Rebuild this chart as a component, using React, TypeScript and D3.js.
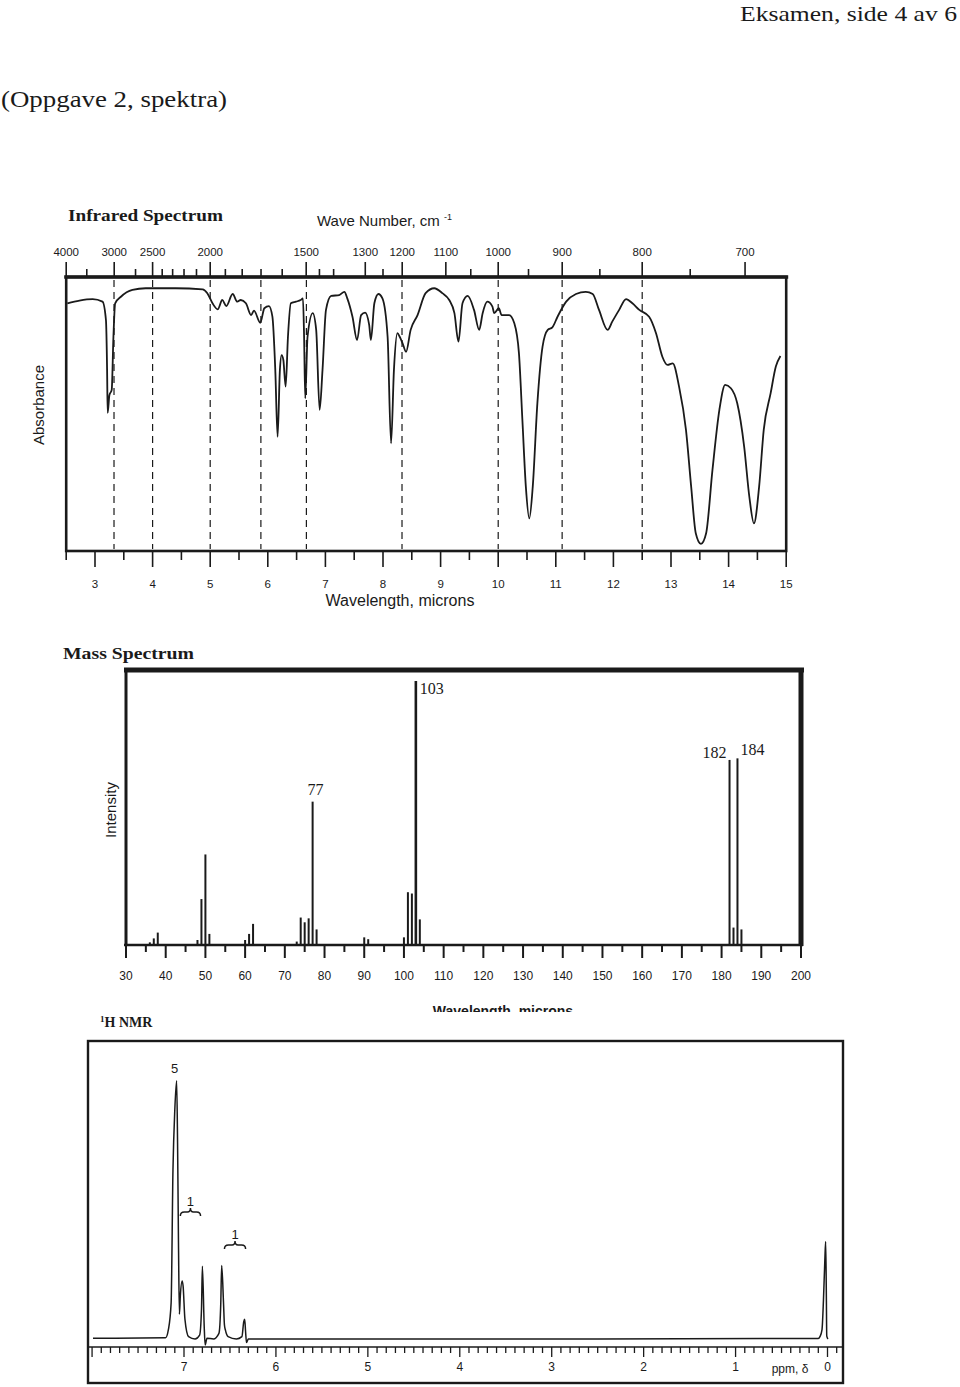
import React from 'react';
import * as d3 from 'd3';

// ---------------- IR data ----------------
const irWavenumberTicks = [4000, 3500, 3000, 2700, 2500, 2400, 2300, 2200, 2100, 2000, 1900, 1800, 1700, 1600, 1500, 1450, 1400, 1300, 1250, 1200, 1100, 1050, 1000, 950, 900, 850, 800, 750, 700];
const irWavenumberLabels = [4000, 3000, 2500, 2000, 1500, 1300, 1200, 1100, 1000, 900, 800, 700];
const irMicronLabels = [3, 4, 5, 6, 7, 8, 9, 10, 11, 12, 13, 14, 15];
const irMicronMinor = [2.5, 3.5, 4.5, 5.5, 6.5, 7.5, 8.5, 9.5, 10.5, 11.5, 12.5, 13.5, 14.5];
const irDashedMicrons = [3.33, 4, 5, 5.88, 6.67, 8.33, 10, 11.11, 12.5];
// [wavelength (microns), transmittance %]
const irSpectrum: [number, number][] = [
  [2.52, 90.4], [2.73, 91.4], [2.96, 91.9], [3.13, 91.0], [3.19, 84.3], [3.21, 66.1], [3.22, 50.4], [3.25, 56.9],
  [3.29, 58.8], [3.32, 78.2], [3.35, 90.4], [3.45, 92.8], [3.65, 95.3], [3.88, 95.9], [4.40, 95.9], [4.87, 95.5],
  [4.95, 94.1], [5.04, 90.4], [5.13, 88.2], [5.21, 91.6], [5.28, 89.4], [5.39, 93.8], [5.47, 91.0], [5.53, 91.6],
  [5.62, 90.4], [5.71, 86.1], [5.76, 87.7], [5.87, 83.3], [5.94, 88.6], [6.02, 89.4], [6.08, 85.5], [6.13, 66.1],
  [6.17, 41.7], [6.21, 66.1], [6.24, 71.5], [6.27, 69.7], [6.31, 60.0], [6.35, 78.2], [6.40, 90.4], [6.49, 91.0],
  [6.57, 91.6], [6.61, 92.2], [6.63, 78.2], [6.65, 55.7], [6.69, 78.2], [6.78, 86.8], [6.84, 80.7], [6.90, 51.5],
  [6.95, 66.1], [7.01, 88.0], [7.10, 93.1], [7.24, 93.4], [7.33, 94.6], [7.38, 92.2], [7.47, 85.5], [7.55, 77.0],
  [7.62, 86.1], [7.69, 87.0], [7.76, 82.5], [7.79, 77.0], [7.85, 90.4], [7.92, 93.8], [7.99, 92.2], [8.08, 78.2],
  [8.14, 39.3], [8.19, 66.1], [8.25, 79.5], [8.29, 78.2], [8.34, 75.8], [8.40, 72.7], [8.48, 80.7], [8.60, 86.1],
  [8.74, 94.1], [8.89, 95.9], [9.03, 94.1], [9.15, 91.6], [9.24, 86.8], [9.31, 76.4], [9.38, 90.4], [9.47, 93.1],
  [9.58, 88.0], [9.67, 80.7], [9.73, 86.8], [9.81, 91.0], [9.90, 89.2], [9.93, 86.8], [10.01, 88.6], [10.06, 86.1],
  [10.19, 86.1], [10.28, 83.1], [10.36, 72.2], [10.42, 47.8], [10.48, 23.5], [10.54, 11.9], [10.60, 23.5], [10.68, 53.9],
  [10.77, 74.6], [10.86, 80.7], [10.94, 81.6], [11.03, 85.5], [11.18, 91.0], [11.35, 93.8], [11.52, 94.6], [11.64, 93.8],
  [11.75, 88.0], [11.90, 80.7], [11.98, 83.7], [12.10, 88.0], [12.22, 91.9], [12.33, 90.4], [12.45, 88.0], [12.62, 85.5],
  [12.74, 79.5], [12.85, 70.9], [12.94, 67.9], [13.03, 68.5], [13.14, 60.0], [13.26, 44.2], [13.35, 23.5], [13.43, 6.5],
  [13.52, 2.6], [13.61, 6.5], [13.72, 29.6], [13.84, 51.5], [13.94, 60.6], [14.04, 59.4], [14.15, 53.9], [14.27, 38.1],
  [14.36, 19.8], [14.44, 10.1], [14.53, 23.5], [14.61, 44.2], [14.73, 57.6], [14.82, 67.3], [14.90, 71.2],
];

// ---------------- Mass spectrum data ----------------
const msMz = [36, 37, 38, 48, 49, 50, 51, 60, 61, 62, 73, 74, 75, 76, 77, 78, 90, 91, 100, 101, 102, 103, 104, 182, 183, 184, 185];
const msIntensity = [1.0, 2.5, 4.7, 1.9, 17.4, 34.3, 4.2, 1.9, 4.2, 8.0, 1.3, 10.4, 8.6, 10.1, 54.3, 5.9, 2.9, 2.2, 2.9, 20.0, 19.5, 100, 9.7, 70.1, 6.6, 70.7, 5.9];
const msLabeledPeaks = [77, 103, 182, 184];
const msMajorTicks = d3.range(30, 201, 10);
const msMinorTicks = d3.range(35, 200, 10);

// ---------------- 1H NMR data ----------------
const nmrShift = [7.99, 7.20, 7.17, 7.14, 7.12, 7.10, 7.08, 7.07, 7.06, 7.05, 7.04, 7.02, 7.01, 6.99, 6.95, 6.88,
  6.83, 6.81, 6.80, 6.78, 6.77, 6.75, 6.68, 6.62, 6.60, 6.59, 6.57, 6.56, 6.55, 6.52, 6.43, 6.37, 6.35, 6.34,
  6.33, 6.32, 6.30, 2.50, 0.100, 0.082, 0.060, 0.044, 0.029, 0.020, 0.013, 0.008, -0.005];
const nmrIntensity = [0.3, 0.5, 3.6, 14.0, 65.5, 88.7, 100, 76.0, 37.4, 9.6, 16.7, 22.5, 20.6, 7.7, 0.9, 0.0,
  1.5, 11.2, 28.2, 4.7, -2.3, 0.3, 0.0, 2.2, 13.8, 28.5, 13.8, 5.4, 3.5, 0.9, 0.0, 0.9, 6.7, 7.6,
  2.8, -1.4, 0.0, 0.0, 0.2, 0.9, 3.5, 15.0, 30.5, 37.7, 18.9, 1.1, 0.0];
const nmrLabels = [1, 2, 3, 4, 5, 6, 7];
const nmrTicks = d3.range(-1, 81).map((v) => v / 10);
const nmrIntegrals = [
  { from: 7.08, to: 7.08, text: '5', brace: false },
  { from: 7.04, to: 6.82, text: '1', brace: true },
  { from: 6.56, to: 6.33, text: '1', brace: true },
];

const SANS = '"Liberation Sans", Arial, sans-serif';
const SERIF = '"Liberation Serif", "Times New Roman", serif';

function bracePath(x1: number, x2: number, y: number) {
  const m = (x1 + x2) / 2;
  return `M${x1},${y + 4} Q${x1},${y} ${x1 + 4},${y} L${m - 3},${y} Q${m},${y} ${m},${y - 4} Q${m},${y} ${m + 3},${y} L${x2 - 4},${y} Q${x2},${y} ${x2},${y + 4}`;
}

export default function App() {
  // IR scales
  const irX = d3.scaleLinear().domain([3, 15]).range([95, 786.2]);
  const irY = d3.scaleLinear().domain([0, 100]).range([551, 277]);
  const irLine = d3.line<[number, number]>().x((d) => irX(d[0])).y((d) => irY(d[1])).curve(d3.curveMonotoneX);
  const irL = irX(2.5), irR = irX(15), irT = irY(100), irB = irY(0);

  // MS scales
  const msX = d3.scaleLinear().domain([30, 200]).range([126, 801]);
  const msY = d3.scaleLinear().domain([0, 100]).range([945, 681]);

  // NMR scales
  const nmrX = d3.scaleLinear().domain([0, 7]).range([827.5, 184]);
  const nmrY = d3.scaleLinear().domain([0, 100]).range([1339, 1080.7]);
  const nmrPts: [number, number][] = nmrShift.map((s, i) => [s, nmrIntensity[i]]);
  const nmrLine = d3.line<[number, number]>().x((d) => nmrX(d[0])).y((d) => nmrY(d[1])).curve(d3.curveMonotoneX);
  const nL = 88, nR = 843, nT = 1041, nB = 1383, ruler = 1347;

  const ink = '#1a1a1a';

  return (
    <svg width={960} height={1387} viewBox="0 0 960 1387" style={{ position: 'absolute', left: 0, top: 0, background: '#fff' }}>
      <rect x={0} y={0} width={960} height={1387} fill="#fff" />
      <defs>
        <clipPath id="msCut"><rect x={380} y={990} width={260} height={22} /></clipPath>
      </defs>

      {/* page header */}
      <text x={957} y={21} textAnchor="end" fontFamily={SERIF} fontSize={22} fill={ink} textLength={217} lengthAdjust="spacingAndGlyphs">Eksamen, side 4 av  6</text>
      <text x={1} y={107} fontFamily={SERIF} fontSize={23} fill={ink} textLength={226} lengthAdjust="spacingAndGlyphs">(Oppgave 2, spektra)</text>

      {/* ================= IR ================= */}
      <text x={68} y={221} fontFamily={SERIF} fontWeight="bold" fontSize={16} fill={ink} textLength={155} lengthAdjust="spacingAndGlyphs">Infrared Spectrum</text>
      <text x={317} y={226} fontFamily={SANS} fontSize={15} fill={ink}>Wave Number, cm <tspan fontSize={9} dy={-6}>-1</tspan></text>
      {irWavenumberTicks.map((w) => {
        const major = irWavenumberLabels.includes(w);
        const x = irX(10000 / w);
        return <line key={'wt' + w} x1={x} x2={x} y1={irT} y2={irT - (major ? 15 : 8)} stroke={ink} strokeWidth={1.6} />;
      })}
      {irWavenumberLabels.map((w) => (
        <text key={'wl' + w} x={irX(10000 / w)} y={256} textAnchor="middle" fontFamily={SANS} fontSize={11.5} fill={ink}>{w}</text>
      ))}
      {irDashedMicrons.map((m) => (
        <line key={'dl' + m} x1={irX(m)} x2={irX(m)} y1={irT + 3} y2={irB - 2} stroke={ink} strokeWidth={1.2} strokeDasharray="7,5" />
      ))}
      <rect x={irL} y={irT} width={irR - irL} height={irB - irT} fill="none" stroke={ink} strokeWidth={2.6} />
      <line x1={irL - 2} x2={irR + 2} y1={irT} y2={irT} stroke={ink} strokeWidth={3.6} />
      <path d={irLine(irSpectrum) || ''} fill="none" stroke={ink} strokeWidth={1.8} strokeLinejoin="round" />
      {irMicronLabels.map((m) => (
        <g key={'ml' + m}>
          <line x1={irX(m)} x2={irX(m)} y1={irB} y2={irB + 16} stroke={ink} strokeWidth={1.6} />
          <text x={irX(m)} y={588} textAnchor="middle" fontFamily={SANS} fontSize={11.5} fill={ink}>{m}</text>
        </g>
      ))}
      {irMicronMinor.map((m) => (
        <line key={'mm' + m} x1={irX(m)} x2={irX(m)} y1={irB} y2={irB + 9} stroke={ink} strokeWidth={1.6} />
      ))}
      <text x={400} y={606} textAnchor="middle" fontFamily={SANS} fontSize={16} fill={ink}>Wavelength, microns</text>
      <text transform="translate(44,405) rotate(-90)" textAnchor="middle" fontFamily={SANS} fontSize={15} fill={ink}>Absorbance</text>

      {/* ================= Mass spectrum ================= */}
      <text x={63} y={659} fontFamily={SERIF} fontWeight="bold" fontSize={16} fill={ink} textLength={131} lengthAdjust="spacingAndGlyphs">Mass Spectrum</text>
      <text transform="translate(116,810) rotate(-90)" textAnchor="middle" fontFamily={SANS} fontSize={15} fill={ink}>Intensity</text>
      <line x1={124} x2={804} y1={670} y2={670} stroke={ink} strokeWidth={5} />
      <line x1={126} x2={126} y1={668} y2={946} stroke={ink} strokeWidth={3} />
      <line x1={801} x2={801} y1={668} y2={946} stroke={ink} strokeWidth={5} />
      <line x1={124} x2={803} y1={945} y2={945} stroke={ink} strokeWidth={2.6} />
      {msMajorTicks.map((t) => (
        <g key={'mt' + t}>
          <line x1={msX(t)} x2={msX(t)} y1={945} y2={958} stroke={ink} strokeWidth={2} />
          <text x={msX(t)} y={980} textAnchor="middle" fontFamily={SANS} fontSize={12} fill={ink}>{t}</text>
        </g>
      ))}
      {msMinorTicks.map((t) => (
        <line key={'mn' + t} x1={msX(t)} x2={msX(t)} y1={945} y2={952} stroke={ink} strokeWidth={2} />
      ))}
      {msMz.map((m, i) => (
        <line key={'bar' + m} x1={msX(m)} x2={msX(m)} y1={msY(0)} y2={msY(msIntensity[i])} stroke={ink} strokeWidth={m === 103 ? 2.6 : 2} />
      ))}
      {msLabeledPeaks.map((m) => {
        const i = msMz.indexOf(m);
        const x = msX(m), y = msY(msIntensity[i]);
        if (m === 103) return <text key={'lb' + m} x={x + 4} y={y + 13} fontFamily={SERIF} fontSize={16} fill={ink}>{m}</text>;
        if (m === 182) return <text key={'lb' + m} x={x - 3} y={y - 2} textAnchor="end" fontFamily={SERIF} fontSize={16} fill={ink}>{m}</text>;
        if (m === 184) return <text key={'lb' + m} x={x + 3} y={y - 3} fontFamily={SERIF} fontSize={16} fill={ink}>{m}</text>;
        return <text key={'lb' + m} x={x + 3} y={y - 7} textAnchor="middle" fontFamily={SERIF} fontSize={16} fill={ink}>{m}</text>;
      })}
      <text x={503} y={1016} textAnchor="middle" fontFamily={SANS} fontWeight="bold" fontSize={14} fill={ink} clipPath="url(#msCut)">Wavelength, microns</text>

      {/* ================= 1H NMR ================= */}
      <text x={100} y={1027} fontFamily={SERIF} fontWeight="bold" fontSize={14} fill={ink}><tspan fontSize={9} dy={-5}>1</tspan><tspan dy={5}>H NMR</tspan></text>
      <rect x={nL} y={nT} width={nR - nL} height={nB - nT} fill="none" stroke={ink} strokeWidth={2.4} />
      <line x1={nL} x2={nR} y1={ruler} y2={ruler} stroke={ink} strokeWidth={1.6} />
      {nmrTicks.map((t) => {
        const isInt = Math.abs(t - Math.round(t)) < 1e-6;
        const x = nmrX(t);
        if (x < nL + 1 || x > nR - 1) return null;
        return <line key={'nt' + t} x1={x} x2={x} y1={ruler} y2={ruler + (isInt ? 10 : 6)} stroke={ink} strokeWidth={1.3} />;
      })}
      {nmrLabels.map((v) => (
        <text key={'nl' + v} x={nmrX(v)} y={1371} textAnchor="middle" fontFamily={SANS} fontSize={12} fill={ink}>{v}</text>
      ))}
      <text x={nmrX(0)} y={1371} textAnchor="middle" fontFamily={SANS} fontSize={12} fill={ink}>0</text>
      <text x={790} y={1373} textAnchor="middle" fontFamily={SANS} fontSize={12} fill={ink}>ppm, δ</text>
      <path d={nmrLine(nmrPts) || ''} fill="none" stroke={ink} strokeWidth={1.5} strokeLinejoin="round" />
      {nmrIntegrals.map((g, i) => {
        const x1 = nmrX(g.from), x2 = nmrX(g.to);
        if (!g.brace) {
          return <text key={'ig' + i} x={x1 - 2} y={1073} textAnchor="middle" fontFamily={SANS} fontSize={13} fill={ink}>{g.text}</text>;
        }
        const by = i === 1 ? 1212 : 1245;
        return (
          <g key={'ig' + i}>
            <path d={bracePath(x1, x2, by)} fill="none" stroke={ink} strokeWidth={1.5} />
            <text x={(x1 + x2) / 2} y={by - 6} textAnchor="middle" fontFamily={SANS} fontSize={13} fill={ink}>{g.text}</text>
          </g>
        );
      })}
    </svg>
  );
}
